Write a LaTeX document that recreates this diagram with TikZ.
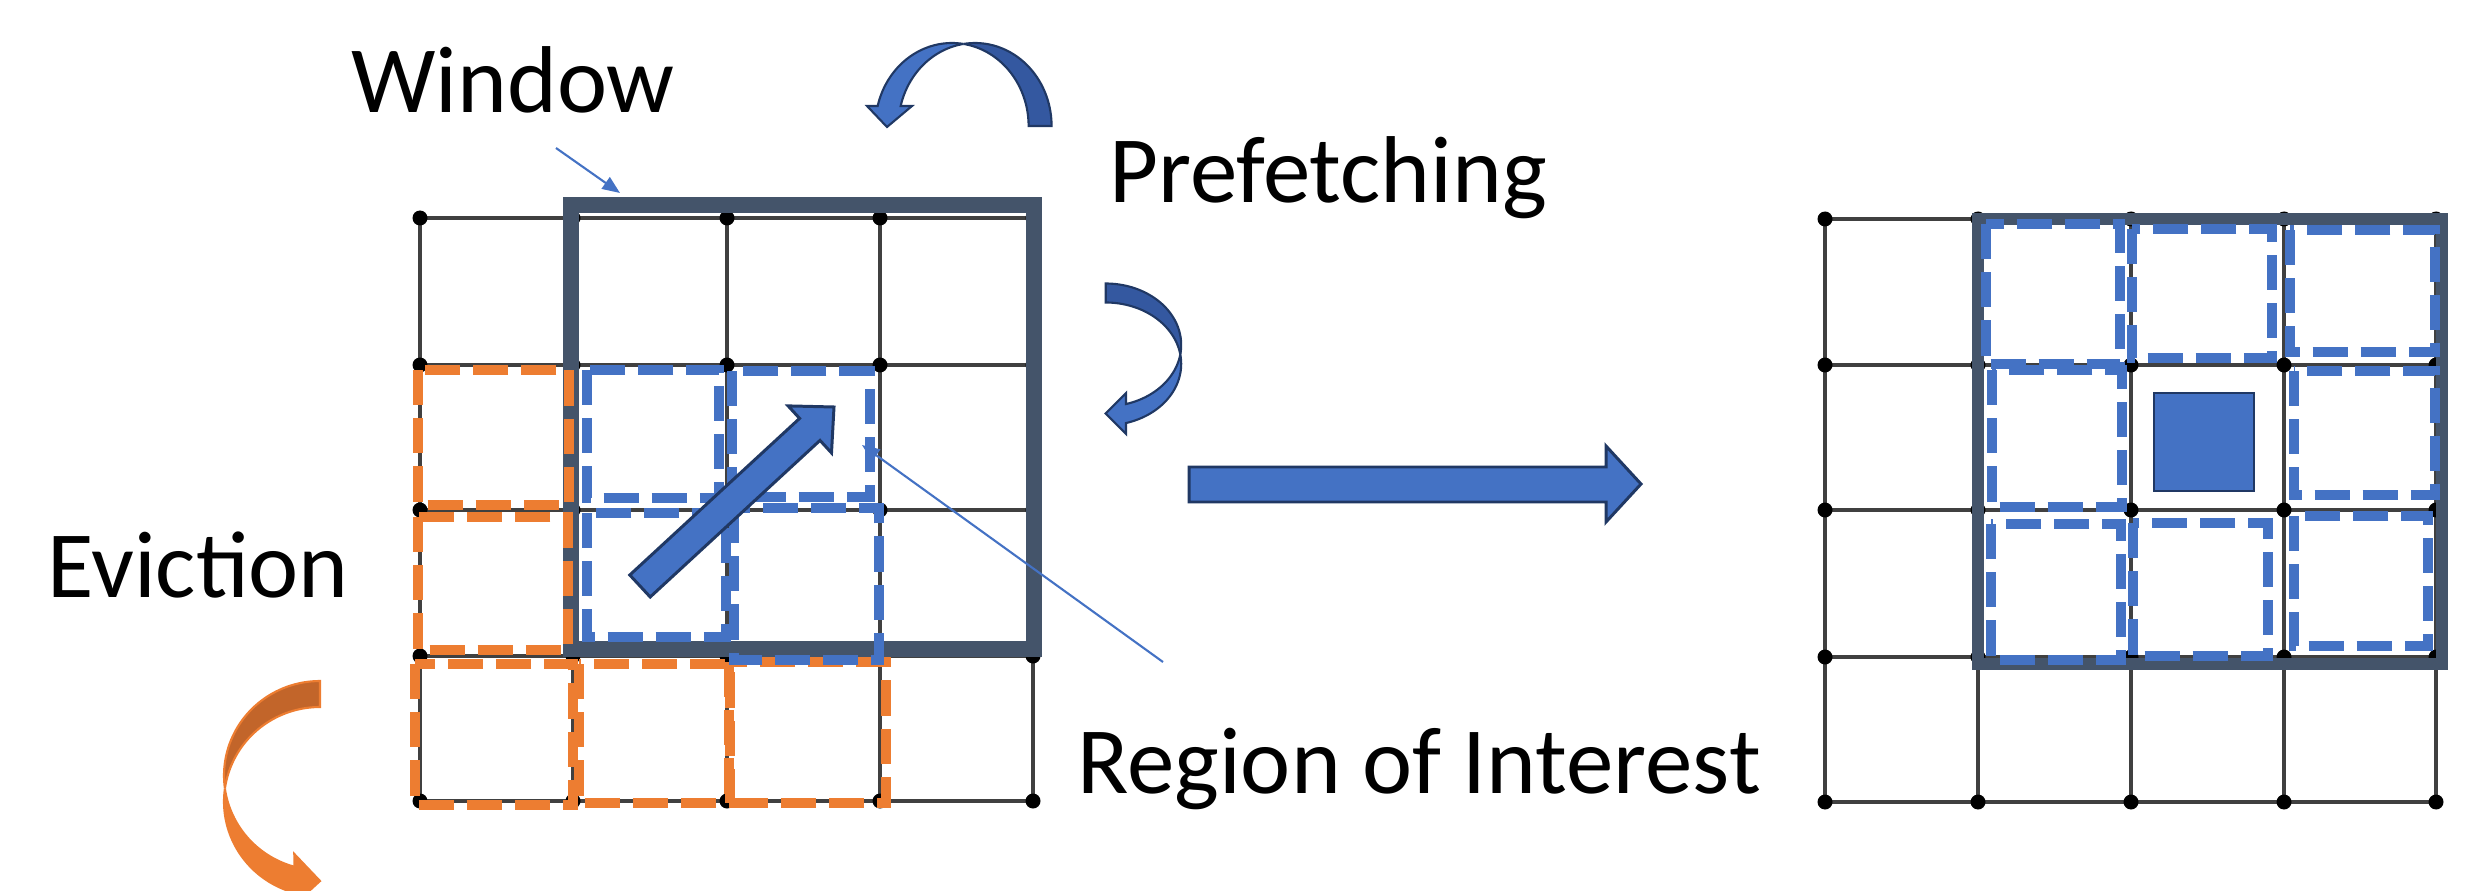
\documentclass[tikz,border=0pt]{standalone}
\usepackage{fontspec}
\setmainfont{Carlito}
\usetikzlibrary{arrows.meta}
\definecolor{winc}{HTML}{44546A}
\definecolor{blu}{HTML}{4472C4}
\definecolor{bludark}{HTML}{3458A0}
\definecolor{bluline}{HTML}{203864}
\definecolor{org}{HTML}{ED7D31}
\definecolor{orgdark}{HTML}{C2652A}
\begin{document}
\begin{tikzpicture}[x=0.01cm,y=-0.01cm,
  gridline/.style={draw=black!75, line width=0.9pt},
  gdot/.style={fill=black},
  winframe/.style={draw=winc, line width=4.3pt},
  roibox/.style={draw=blu, line width=2.9pt, dash pattern=on 10pt off 3.7pt},
  evbox/.style={draw=org, line width=2.9pt, dash pattern=on 10pt off 3.7pt},
  pointer/.style={draw=blu, line width=0.6pt, -{Triangle[length=5pt,width=4pt]}},
  txt/.style={font=\fontsize{27}{32}\selectfont, anchor=base, inner sep=0pt},
  blockarrow/.style={fill=blu, draw=bluline, line width=0.85pt, line join=miter},
  curvedark/.style={fill=bludark, draw=bluline, line width=0.6pt},
  curvelight/.style={fill=blu, draw=bluline, line width=0.6pt},
  evdark/.style={fill=orgdark, draw=org, line width=0.6pt},
  evlight/.style={fill=org, draw=org, line width=0.6pt},
  centersq/.style={fill=blu, draw=bluline, line width=0.7pt}
]
\useasboundingbox (0,0) rectangle (2487,891);

% ---------- left grid ----------
\foreach \x in {420,573,727,880,1033} \draw[gridline] (\x,218) -- (\x,801);
\foreach \y in {218,365,510,656,801} \draw[gridline] (420,\y) -- (1033,\y);
\foreach \x in {420,573,727,880,1033} \foreach \y in {218,365,510,656,801}
  \fill[gdot] (\x,\y) circle[radius=7.5];

% window frame (left)
\draw[winframe] (571,205) rectangle (1034,649);

% eviction boxes
\draw[evbox] (418,370) rectangle (569,505);
\draw[evbox] (418,517) rectangle (568,650);
\draw[evbox] (415,664) rectangle (573,805);
\draw[evbox] (579,664) rectangle (730,803);
\draw[evbox] (729,662) rectangle (886,803);

% region of interest boxes
\draw[roibox] (587,370) rectangle (719,498);
\draw[roibox] (732,371) rectangle (870,497);
\draw[roibox] (587,513) rectangle (726,637);
\draw[roibox] (734,508) rectangle (879,660);

% diagonal block arrow
\filldraw[blockarrow] (650.2,597) -- (820,440.4) -- (831.5,452.9) -- (834,407)
  -- (788.1,405.9) -- (799.6,418.4) -- (629.8,575) -- cycle;

% ---------- right grid ----------
\foreach \x in {1825,1978,2131,2284,2436} \draw[gridline] (\x,219) -- (\x,802);
\foreach \y in {219,365,510,657,802} \draw[gridline] (1825,\y) -- (2436,\y);
\foreach \x in {1825,1978,2131,2284,2436} \foreach \y in {219,365,510,657,802}
  \fill[gdot] (\x,\y) circle[radius=7.5];

\draw[winframe, line width=3.4pt] (1978,219) rectangle (2442,664);

\draw[roibox] (1986,224) rectangle (2120,364);
\draw[roibox] (2132,229) rectangle (2272,358);
\draw[roibox] (2290,230) rectangle (2435,352);
\draw[roibox] (1992,370) rectangle (2122,507);
\draw[roibox] (2294,371) rectangle (2435,495);
\draw[roibox] (1991,524) rectangle (2121,660);
\draw[roibox] (2133,523) rectangle (2268,656);
\draw[roibox] (2294,516) rectangle (2428,646);
\filldraw[centersq] (2154,393) rectangle (2254,491);

% ---------- big horizontal arrow ----------
\filldraw[blockarrow] (1189,467) -- (1606,467) -- (1606,446) -- (1641,484)
  -- (1606,522) -- (1606,502) -- (1189,502) -- cycle;

% ---------- top curved arrow ----------
\filldraw[curvedark] plot[domain=0:-98.6, samples=40, variable=\t] ({975+76.6*cos(\t)},{126+83*sin(\t)})
  -- plot[domain=-81.4:0, samples=40, variable=\t] ({952+76.6*cos(\t)},{126+83*sin(\t)}) -- cycle;
\filldraw[curvelight] plot[domain=-81.4:-166.1, samples=40, variable=\t] ({952+76.6*cos(\t)},{126+83*sin(\t)})
  -- (867,106) -- (887,127) -- (912,106)
  -- plot[domain=-166.1:-98.6, samples=40, variable=\t] ({975+76.6*cos(\t)},{126+83*sin(\t)}) -- cycle;

% ---------- small curved arrow ----------
\filldraw[curvedark] plot[domain=-90:8.9, samples=40, variable=\t] ({1105.7+75.5*cos(\t)},{344.9+61.4*sin(\t)})
  -- plot[domain=-8.9:-90, samples=40, variable=\t] ({1105.7+75.5*cos(\t)},{363.9+61.4*sin(\t)}) -- cycle;
\filldraw[curvelight] plot[domain=-8.9:74.4, samples=40, variable=\t] ({1105.7+75.5*cos(\t)},{363.9+61.4*sin(\t)})
  -- (1126,434) -- (1105.7,413.5) -- (1126,393)
  -- plot[domain=74.4:8.9, samples=40, variable=\t] ({1105.7+75.5*cos(\t)},{344.9+61.4*sin(\t)}) -- cycle;

% ---------- orange curved arrow ----------
\filldraw[evdark] plot[domain=270:172.1, samples=40, variable=\t] ({320+96*cos(\t)},{775.6+94.6*sin(\t)})
  -- plot[domain=187.9:270, samples=40, variable=\t] ({320+96*cos(\t)},{801.6+94.6*sin(\t)}) -- cycle;
\filldraw[evlight] plot[domain=187.9:105.5, samples=40, variable=\t] ({320+96*cos(\t)},{801.6+94.6*sin(\t)})
  -- (294.3,904.5) -- (320,881) -- (294.3,854)
  -- plot[domain=105.5:172.1, samples=40, variable=\t] ({320+96*cos(\t)},{775.6+94.6*sin(\t)}) -- cycle;

% ---------- texts ----------
\node[txt] (win) at (513,113) {Window};
\node[txt] (pref) at (1328,203) {Prefetching};
\node[txt] (roi) at (1419,793) {Region of Interest};
\node[txt] (evict) at (198,597) {Eviction};

% pointers
\coordinate (wp0) at (556,148);
\coordinate (wp1) at (620,193);
\draw[pointer] (wp0) -- (wp1);
\coordinate (rp0) at (1163,662);
\coordinate (rp1) at (862,445);
\draw[pointer] (rp0) -- (rp1);
\end{tikzpicture}
\end{document}
